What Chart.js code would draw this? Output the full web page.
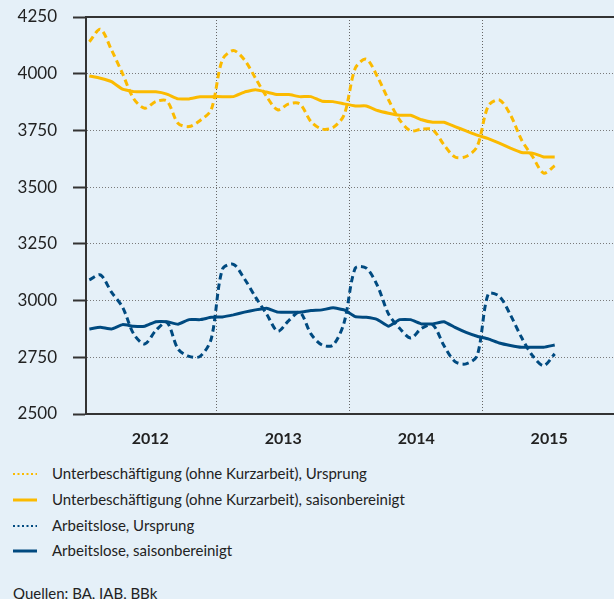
<!DOCTYPE html>
<html><head><meta charset="utf-8">
<script src="https://cdn.jsdelivr.net/npm/chart.js@4.4.1/dist/chart.umd.min.js"></script>
<style>
html,body{margin:0;padding:0;background:#E5F0F8;}
body{width:614px;height:599px;position:relative;overflow:hidden;font-family:Lato,"Noto Sans",sans-serif;color:#222;}
#wrap{position:absolute;left:0;top:0;width:614px;height:460px;}
.leg{position:absolute;left:52px;font-size:15px;line-height:20px;white-space:nowrap;}
#src{position:absolute;left:13px;top:583px;font-size:15px;line-height:20px;white-space:nowrap;}
</style>
</head><body>
<div id="wrap"><canvas id="c" width="614" height="460"></canvas></div>
<div id="legend"></div>
<div id="src">Quellen: BA, IAB, BBk</div>
<script>
// Monthly data Jan 2012 – Jul 2015 (in Tausend)
const months = ['2012-01','2012-02','2012-03','2012-04','2012-05','2012-06','2012-07','2012-08','2012-09','2012-10','2012-11','2012-12',
'2013-01','2013-02','2013-03','2013-04','2013-05','2013-06','2013-07','2013-08','2013-09','2013-10','2013-11','2013-12',
'2014-01','2014-02','2014-03','2014-04','2014-05','2014-06','2014-07','2014-08','2014-09','2014-10','2014-11','2014-12',
'2015-01','2015-02','2015-03','2015-04','2015-05','2015-06','2015-07'];
const years = ['2012','2013','2014','2015'];
const yTicks = [2500,2750,3000,3250,3500,3750,4000,4250];

const unterUrsprung = [4141,4196,4105,4000,3890,3848,3877,3880,3782,3767,3794,3841,
4061,4102,4061,3980,3899,3841,3867,3867,3789,3756,3763,3819,
4024,4064,3987,3885,3797,3748,3756,3753,3687,3633,3635,3679,
3858,3885,3819,3709,3635,3562,3594];
const unterSaison = [3990,3980,3965,3932,3921,3920,3920,3910,3889,3889,3898,3899,
3899,3899,3919,3929,3919,3908,3908,3899,3899,3879,3877,3867,
3858,3858,3838,3826,3817,3817,3797,3786,3786,3767,3748,3729,
3714,3694,3672,3653,3650,3633,3633];
const alUrsprung = [3091,3113,3037,2971,2853,2809,2868,2904,2787,2754,2754,2831,
3137,3160,3096,3015,2941,2865,2912,2949,2853,2804,2804,2904,
3143,3143,3066,2941,2878,2835,2878,2893,2802,2731,2721,2757,
3029,3019,2937,2838,2757,2713,2765];
const alSaison = [2875,2882,2875,2894,2887,2887,2907,2907,2896,2916,2916,2926,
2928,2937,2949,2959,2966,2949,2949,2949,2956,2959,2968,2959,
2929,2926,2916,2887,2916,2916,2897,2897,2907,2882,2860,2843,
2831,2813,2802,2794,2794,2794,2804];

const seriesNames = ['Unterbeschäftigung (ohne Kurzarbeit), Ursprung',
  'Unterbeschäftigung (ohne Kurzarbeit), saisonbereinigt',
  'Arbeitslose, Ursprung',
  'Arbeitslose, saisonbereinigt'];

const YELLOW = '#FBBA00';
const BLUE = '#004A80';
const DASH = [6.5, 4];

function pts(arr){ return arr.map((v,i)=>({x: months.indexOf(months[i]) + 0.5, y: v})); }

const topLine = {
  id:'topLine',
  afterDatasetsDraw(chart){
    const {ctx, chartArea:a} = chart;
    ctx.save();
    ctx.strokeStyle = '#333'; ctx.lineWidth = 2;
    ctx.beginPath(); ctx.moveTo(a.left, a.top); ctx.lineTo(a.right, a.top); ctx.stroke();
    ctx.restore();
  }
};

new Chart(document.getElementById('c'), {
  type:'line',
  data:{ datasets:[
    {label:seriesNames[0], data:pts(unterUrsprung), borderColor:YELLOW, borderWidth:3, borderDash:DASH, tension:0.3},
    {label:seriesNames[1], data:pts(unterSaison), borderColor:YELLOW, borderWidth:3, tension:0.1},
    {label:seriesNames[2], data:pts(alUrsprung), borderColor:BLUE, borderWidth:3, borderDash:DASH, tension:0.3},
    {label:seriesNames[3], data:pts(alSaison), borderColor:BLUE, borderWidth:3, tension:0.1}
  ]},
  options:{
    responsive:false, animation:false,
    layout:{padding:{top:17,right:0,left:0,bottom:0}},
    elements:{point:{radius:0}, line:{borderCapStyle:'butt', fill:false}},
    plugins:{legend:{display:false}, tooltip:{enabled:false}},
    scales:{
      x:{
        type:'linear', min:0.2, max:47.85,
        afterBuildTicks(s){ s.ticks = [6,12,18,24,30,36,42].map(v=>({value:v})); },
        afterFit(s){ s.height = 46; s.paddingLeft = 0; s.paddingRight = 0; },
        ticks:{ padding:15, color:'#222', font:{family:'Lato, "Noto Sans", sans-serif', size:16, weight:'bold'},
          callback:(v)=> (v%12===6) ? years[(v-6)/12] : '' , maxRotation:0, autoSkip:false},
        grid:{ drawTicks:false, color:(c)=> (c.tick && c.tick.value%12===0) ? '#666' : 'rgba(0,0,0,0)', lineWidth:1 },
        border:{ color:'#333', width:2, dash:[1,2] }
      },
      y:{
        min:2500, max:4250,
        afterBuildTicks(s){ s.ticks = yTicks.map(v=>({value:v})); },
        afterFit(s){ s.width = 86; s.paddingTop = 0; s.paddingBottom = 0; },
        ticks:{ padding:16, color:'#222', font:{family:'Lato, "Noto Sans", sans-serif', size:17}, callback:(v)=>String(v) },
        grid:{ color:'#7a7a7a', lineWidth:1, tickLength:13, tickColor:'#333', tickWidth:2, tickBorderDash:[] },
        border:{ color:'#333', width:2, dash:[1,2] }
      }
    }
  },
  plugins:[topLine]
});

// HTML legend
const legColors = [YELLOW, YELLOW, BLUE, BLUE];
const legDotted = [true,false,true,false];
const legTop = [474, 499.5, 525.5, 550.5];
const L = document.getElementById('legend');
seriesNames.forEach((n,i)=>{
  const sym = document.createElementNS('http://www.w3.org/2000/svg','svg');
  sym.setAttribute('width','26'); sym.setAttribute('height','6');
  sym.style.position='absolute'; sym.style.left='12px'; sym.style.top=(legTop[i]-3)+'px';
  const ln = document.createElementNS('http://www.w3.org/2000/svg','line');
  ln.setAttribute('x1','1'); ln.setAttribute('x2','25'); ln.setAttribute('y1','3'); ln.setAttribute('y2','3');
  ln.setAttribute('stroke', legColors[i]);
  if(legDotted[i]){ ln.setAttribute('stroke-width','2'); ln.setAttribute('stroke-dasharray','2 2.5'); }
  else ln.setAttribute('stroke-width','3');
  sym.appendChild(ln); L.appendChild(sym);
  const t = document.createElement('div'); t.className='leg'; t.textContent=n; t.style.top=(legTop[i]-11)+'px';
  L.appendChild(t);
});
</script>
</body></html>
